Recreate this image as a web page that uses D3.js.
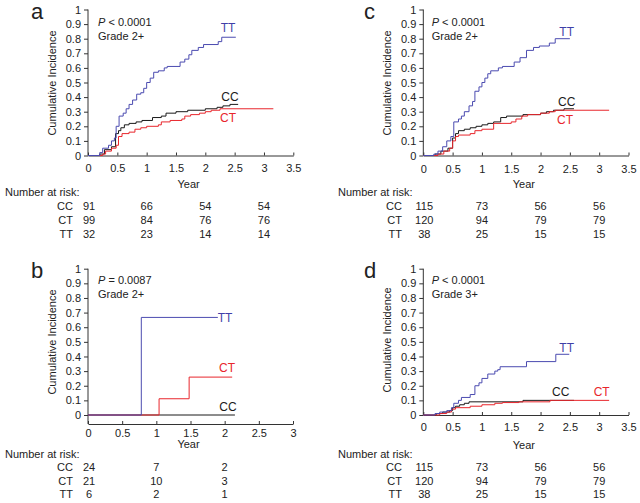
<!DOCTYPE html>
<html><head><meta charset="utf-8">
<script src="https://cdn.jsdelivr.net/npm/d3@7"></script>
<style>
body{margin:0;background:#fff;}
svg text{font-family:"Liberation Sans",Arial,Helvetica,sans-serif;fill:#222;}
</style></head>
<body><svg id="chart" width="640" height="503"></svg>
<script>
// ---------- data ----------
const groups = ["CC","CT","TT"];
const xTicksWide = [0,0.5,1,1.5,2,2.5,3,3.5];
const xTicksNarrow = [0,0.5,1,1.5,2,2.5,3];
const yTicks = [0,0.1,0.2,0.3,0.4,0.5,0.6,0.7,0.8,0.9,1];

// panel a  (Grade 2+)
const aTT = [[0,0],[0.2,0.02],[0.25,0.05],[0.35,0.07],[0.4,0.1],[0.45,0.12],[0.48,0.2],[0.53,0.27],[0.6,0.29],[0.65,0.32],[0.7,0.35],[0.76,0.38],[0.83,0.42],[0.9,0.43],[0.95,0.46],[1.0,0.5],[1.06,0.53],[1.12,0.57],[1.2,0.58],[1.3,0.6],[1.35,0.61],[1.57,0.64],[1.65,0.66],[1.72,0.69],[1.77,0.72],[1.88,0.74],[1.97,0.76],[2.22,0.78],[2.28,0.81],[2.52,0.81]];
const aCC = [[0,0],[0.2,0.01],[0.28,0.04],[0.4,0.06],[0.47,0.15],[0.52,0.17],[0.56,0.19],[0.62,0.21],[0.7,0.22],[0.82,0.23],[0.92,0.24],[1.1,0.26],[1.25,0.27],[1.33,0.29],[1.5,0.3],[1.7,0.31],[2.0,0.32],[2.2,0.33],[2.3,0.34],[2.42,0.35],[2.56,0.35]];
const aCT = [[0,0],[0.25,0.01],[0.3,0.03],[0.4,0.05],[0.48,0.07],[0.52,0.13],[0.58,0.15],[0.7,0.16],[0.8,0.18],[0.9,0.19],[1.0,0.2],[1.2,0.21],[1.25,0.23],[1.4,0.24],[1.6,0.25],[1.65,0.27],[1.75,0.28],[1.9,0.29],[2.0,0.3],[2.1,0.31],[2.25,0.32],[3.16,0.32]];
const aRiskYears = [0,1,2,3];
const aRiskCC = [91,66,54,54];
const aRiskCT = [99,84,76,76];
const aRiskTT = [32,23,14,14];

// panel b
const bTT = [[0,0],[0.78,0.667],[1.9,0.667]];
const bCT = [[0,0],[1.04,0.111],[1.48,0.259],[2.11,0.259]];
const bCC = [[0,0],[2.15,0]];
const bRiskYears = [0,1,2];
const bRiskCC = [24,7,2];
const bRiskCT = [21,10,3];
const bRiskTT = [6,2,1];

// panel c
const cTT = [[0,0],[0.18,0.01],[0.25,0.03],[0.33,0.06],[0.4,0.1],[0.47,0.13],[0.52,0.23],[0.6,0.25],[0.65,0.27],[0.7,0.3],[0.78,0.34],[0.84,0.37],[0.88,0.44],[0.95,0.47],[1.0,0.5],[1.05,0.53],[1.1,0.56],[1.15,0.58],[1.28,0.6],[1.35,0.61],[1.55,0.64],[1.65,0.67],[1.76,0.72],[1.88,0.74],[1.98,0.75],[2.15,0.77],[2.25,0.8],[2.5,0.8]];
const cCC = [[0,0],[0.2,0.01],[0.3,0.03],[0.42,0.05],[0.5,0.12],[0.55,0.15],[0.6,0.17],[0.7,0.18],[0.8,0.19],[0.9,0.2],[1.0,0.21],[1.1,0.22],[1.2,0.23],[1.32,0.26],[1.42,0.27],[1.7,0.28],[2.0,0.29],[2.1,0.3],[2.22,0.31],[2.4,0.32],[2.57,0.32]];
const cCT = [[0,0],[0.25,0.01],[0.35,0.03],[0.45,0.05],[0.5,0.1],[0.55,0.13],[0.6,0.14],[0.8,0.15],[0.88,0.17],[1.0,0.18],[1.2,0.22],[1.5,0.23],[1.58,0.25],[1.68,0.27],[1.78,0.28],[2.0,0.29],[2.15,0.3],[2.25,0.31],[3.17,0.31]];
const cRiskYears = [0,1,2,3];
const cRiskCC = [115,73,56,56];
const cRiskCT = [120,94,79,79];
const cRiskTT = [38,25,15,15];

// panel d (Grade 3+)
const dTT = [[0,0],[0.2,0.01],[0.28,0.02],[0.4,0.03],[0.48,0.05],[0.52,0.08],[0.6,0.1],[0.65,0.12],[0.8,0.14],[0.88,0.2],[0.95,0.22],[1.0,0.25],[1.1,0.28],[1.22,0.3],[1.27,0.31],[1.31,0.33],[1.76,0.365],[2.26,0.415],[2.49,0.415]];
const dCC = [[0,0],[0.22,0.01],[0.33,0.02],[0.45,0.03],[0.5,0.05],[0.55,0.06],[0.62,0.07],[0.7,0.08],[0.78,0.09],[1.7,0.1],[2.57,0.1]];
const dCT = [[0,0],[0.28,0.01],[0.4,0.02],[0.48,0.04],[0.55,0.05],[0.8,0.06],[1.0,0.07],[1.22,0.08],[1.35,0.085],[1.63,0.09],[2.16,0.1],[3.17,0.1]];
const dRiskYears = [0,1,2,3];
const dRiskCC = [115,73,56,56];
const dRiskCT = [120,94,79,79];
const dRiskTT = [38,25,15,15];

const colors = {CC:"#1a1a1a", CT:"#e8262c", TT:"#4b4bb0"};
const textColors = {CC:"#1a1a1a", CT:"#e8262c", TT:"#3f3fa8"};

// ---------- layout ----------
const panels = [
  {letter:"a", lx:31, ly:19, xmax:3.5, ticks:xTicksWide, xr:[88,293.3], yr:[155.5,9.5], axisY:155.5, tickLabY:171.5,
   pval:"< 0.0001", grade:"Grade 2+", px:98, py:26,
   series:{TT:aTT,CC:aCC,CT:aCT}, labels:{TT:[228,32],CC:[230,101],CT:[228,122]},
   ylabX:52, ylabY:83, yearY:188, narY:196, rowY:[210,224,237.5], narX:5, rowLabX:73,
   risk:{years:aRiskYears,CC:aRiskCC,CT:aRiskCT,TT:aRiskTT}},
  {letter:"b", lx:31, ly:278, xmax:3, ticks:xTicksNarrow, xr:[88,293], yr:[415,268.7], axisY:424, tickLabY:436.5,
   pval:"= 0.0087", grade:"Grade 2+", px:98, py:284,
   series:{TT:bTT,CT:bCT,CC:bCC}, labels:{TT:[225,322],CT:[227,372],CC:[228,411]},
   ylabX:52, ylabY:342, yearY:448, narY:457.5, rowY:[471,485,497.5], narX:5, rowLabX:73,
   risk:{years:bRiskYears,CC:bRiskCC,CT:bRiskCT,TT:bRiskTT}},
  {letter:"c", lx:364, ly:19, xmax:3.5, ticks:xTicksWide, xr:[423.3,628.5], yr:[155.5,9.5], axisY:155.5, tickLabY:172.5,
   pval:"< 0.0001", grade:"Grade 2+", px:431.7, py:26,
   series:{TT:cTT,CC:cCC,CT:cCT}, labels:{TT:[566.7,36],CC:[566.7,106],CT:[565,124]},
   ylabX:386.7, ylabY:83, yearY:188, narY:196, rowY:[210,224,237.5], narX:338, rowLabX:402,
   risk:{years:cRiskYears,CC:cRiskCC,CT:cRiskCT,TT:cRiskTT}},
  {letter:"d", lx:364, ly:278, xmax:3.5, ticks:xTicksWide, xr:[423.3,628.5], yr:[415,268.7], axisY:415, tickLabY:430.5,
   pval:"< 0.0001", grade:"Grade 3+", px:431.7, py:284,
   series:{TT:dTT,CC:dCC,CT:dCT}, labels:{TT:[566.7,351.5],CC:[560.7,396],CT:[601.7,396]},
   ylabX:386.7, ylabY:340, yearY:449, narY:457.5, rowY:[471,484.5,497.5], narX:338, rowLabX:402,
   risk:{years:dRiskYears,CC:dRiskCC,CT:dRiskCT,TT:dRiskTT}}
];

const svg = d3.select("#chart");
const fs = 11;

panels.forEach(p => {
  const g = svg.append("g");
  const x = d3.scaleLinear().domain([0,p.xmax]).range(p.xr);
  const y = d3.scaleLinear().domain([0,1]).range(p.yr);

  g.append("text").attr("x",p.lx).attr("y",p.ly).attr("font-size",22).text(p.letter);

  const yAxis = d3.axisLeft(y).tickValues(yTicks).tickSize(4).tickPadding(3)
    .tickFormat(d => d3.format("~g")(d)).tickSizeOuter(0);
  const ya = g.append("g").attr("transform",`translate(${x(0)},0)`).call(yAxis);
  ya.select(".domain").attr("stroke","#333").attr("d",`M0,${p.axisY}V${y(1)}`);
  ya.selectAll(".tick line").attr("stroke","#333");
  ya.selectAll("text").attr("font-size",fs).attr("fill","#222")
    .style("font-family",'"Liberation Sans",Arial,sans-serif');

  const xAxis = d3.axisBottom(x).tickValues(p.ticks).tickSize(0).tickSizeOuter(0)
    .tickFormat(d => d3.format("~g")(d));
  const xa = g.append("g").attr("transform",`translate(0,${p.axisY})`).call(xAxis);
  xa.select(".domain").attr("stroke","#333");
  xa.selectAll(".tick line").attr("y2",-3).attr("stroke","#333");
  xa.selectAll("text").attr("font-size",fs).attr("fill","#222").attr("dy",null)
    .attr("y",p.tickLabY - p.axisY)
    .style("font-family",'"Liberation Sans",Arial,sans-serif');

  g.append("text").attr("transform",`translate(${p.ylabX},${p.ylabY}) rotate(-90)`)
    .attr("text-anchor","middle").attr("font-size",fs).attr("dy","0.35em").text("Cumulative Incidence");

  const pt = g.append("text").attr("x",p.px).attr("y",p.py).attr("font-size",fs);
  pt.append("tspan").attr("font-style","italic").text("P");
  pt.append("tspan").text(" " + p.pval);
  g.append("text").attr("x",p.px).attr("y",p.py+13.5).attr("font-size",fs).text(p.grade);

  const line = d3.line().x(d => x(d[0])).y(d => y(d[1])).curve(d3.curveStepAfter);
  ["CC","CT","TT"].forEach(k => {
    g.append("path").datum(p.series[k]).attr("d",line)
      .attr("fill","none").attr("stroke",colors[k]).attr("stroke-width",1);
  });
  groups.forEach(k => {
    const [lx,ly] = p.labels[k];
    g.append("text").attr("x",lx).attr("y",ly).attr("text-anchor","middle")
      .attr("font-size",12).style("fill",textColors[k]).text(k);
  });

  g.append("text").attr("x",(x(0)+x(p.xmax))/2 - 2).attr("y",p.yearY).attr("text-anchor","middle")
    .attr("font-size",fs).text("Year");

  g.append("text").attr("x",p.narX).attr("y",p.narY).attr("font-size",fs).text("Number at risk:");
  groups.forEach((k,i) => {
    g.append("text").attr("x",p.rowLabX).attr("y",p.rowY[i]).attr("text-anchor","end")
      .attr("font-size",fs).text(k);
    p.risk[k].forEach((v,j) => {
      g.append("text").attr("x",x(p.risk.years[j]) + (j===0 ? 1 : 0)).attr("y",p.rowY[i])
        .attr("text-anchor","middle").attr("font-size",fs).style("fill","#222").text(v);
    });
  });
});
</script>
</body></html>
